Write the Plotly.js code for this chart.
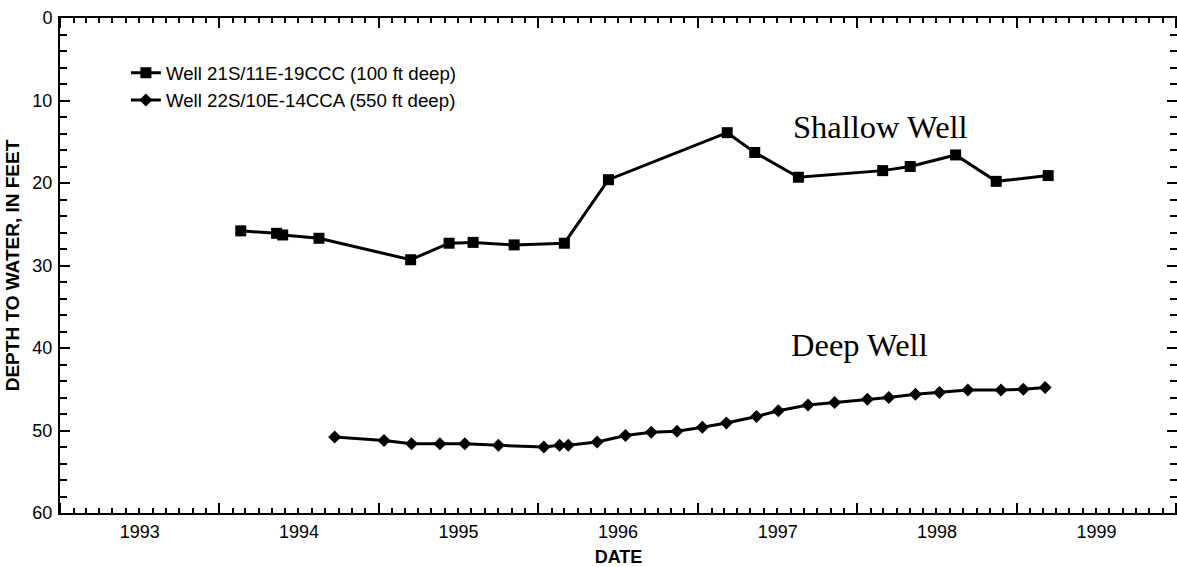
<!DOCTYPE html>
<html>
<head>
<meta charset="utf-8">
<script src="https://cdn.plot.ly/plotly-3.0.1.min.js"></script>
<style>
  html, body { margin: 0; padding: 0; background: #ffffff; }
  #chart { width: 1177px; height: 567px; }
</style>
</head>
<body>
<div id="chart"></div>
<script>
// Shallow well: Well 21S/11E-19CCC (100 ft deep)
const shallowDates = ['1994-02-19','1994-05-12','1994-05-26','1994-08-17','1995-03-15','1995-06-11',
  '1995-08-05','1995-11-07','1996-03-01','1996-06-10','1997-03-09','1997-05-11','1997-08-19',
  '1998-02-28','1998-05-02','1998-08-14','1998-11-15','1999-03-14'];
const shallowDepth = [25.8, 26.1, 26.3, 26.7, 29.3, 27.3, 27.2, 27.5, 27.3, 19.6, 13.9, 16.3, 19.3,
  18.5, 18.0, 16.6, 19.8, 19.1];

// Deep well: Well 22S/10E-14CCA (550 ft deep)
const deepDates = ['1994-09-22','1995-01-13','1995-03-17','1995-05-21','1995-07-17','1995-10-02',
  '1996-01-14','1996-02-19','1996-03-10','1996-05-15','1996-07-19','1996-09-16','1996-11-14',
  '1997-01-11','1997-03-07','1997-05-15','1997-07-04','1997-09-10','1997-11-10','1998-01-24',
  '1998-03-14','1998-05-14','1998-07-08','1998-09-11','1998-11-26','1999-01-16','1999-03-07'];
const deepDepth = [50.8, 51.2, 51.6, 51.6, 51.6, 51.8, 52.0, 51.8, 51.8, 51.4, 50.6, 50.2, 50.1,
  49.6, 49.1, 48.3, 47.6, 46.9, 46.6, 46.2, 46.0, 45.6, 45.4, 45.1, 45.1, 45.0, 44.8];

const seriesNames = ['Well 21S/11E-19CCC (100 ft deep)', 'Well 22S/10E-14CCA (550 ft deep)'];
const yTickVals = [0, 10, 20, 30, 40, 50, 60];
const labelTexts = ['Shallow Well', 'Deep Well'];

const SANS = 'Liberation Sans, Arial, Helvetica, sans-serif';
const SERIF = 'Liberation Serif, Times New Roman, serif';

const traces = [
  {
    x: shallowDates, y: shallowDepth, name: seriesNames[0], type: 'scatter', mode: 'lines+markers',
    line: {color: '#000000', width: 3},
    marker: {symbol: 'square', size: 11, color: '#000000'}
  },
  {
    x: deepDates, y: deepDepth, name: seriesNames[1], type: 'scatter', mode: 'lines+markers',
    line: {color: '#000000', width: 3},
    marker: {symbol: 'diamond', size: 10, color: '#000000'}
  }
];

const layout = {
  width: 1177, height: 567,
  margin: {l: 60, r: 0, t: 18, b: 54, pad: 0},
  paper_bgcolor: '#ffffff', plot_bgcolor: '#ffffff',
  font: {family: SANS, color: '#000000', size: 18},
  showlegend: true,
  legend: {
    x: 0.059, y: 0.927, xanchor: 'left', yanchor: 'top',
    bgcolor: 'rgba(0,0,0,0)', borderwidth: 0,
    font: {family: SANS, size: 18.7, color: '#000000'}
  },
  xaxis: {
    type: 'date',
    range: ['1993-01-01', '2000-01-03'],
    tick0: '1993-01-01', dtick: 'M12',
    ticklabelmode: 'period', tickformat: '%Y',
    ticks: 'inside', ticklen: 10, tickwidth: 2, tickcolor: '#000000',
    minor: {dtick: 'M1', ticks: 'inside', ticklen: 5, tickwidth: 2, tickcolor: '#000000', showgrid: false},
    showline: true, linewidth: 2, linecolor: '#000000', mirror: 'allticks',
    showgrid: false, zeroline: false,
    ticklabelstandoff: 1,
    tickfont: {family: SANS, size: 18, color: '#000000'},
    title: {text: 'DATE', standoff: 17, font: {family: SANS, size: 18, weight: 'bold', color: '#000000'}},
    automargin: false
  },
  yaxis: {
    range: [60, 0],
    tickvals: yTickVals,
    ticks: 'inside', ticklen: 10, tickwidth: 2, tickcolor: '#000000',
    minor: {dtick: 2, ticks: 'inside', ticklen: 7, tickwidth: 2, tickcolor: '#000000', showgrid: false},
    showline: true, linewidth: 2, linecolor: '#000000', mirror: 'allticks',
    showgrid: false, zeroline: false,
    ticklabelstandoff: 2,
    tickfont: {family: SANS, size: 18, color: '#000000'},
    title: {text: 'DEPTH TO WATER, IN FEET', standoff: 8, font: {family: SANS, size: 19, weight: 'bold', color: '#000000'}},
    automargin: false
  },
  annotations: [
    {text: labelTexts[0], xref: 'paper', yref: 'paper', x: 0.654, y: 0.78, xanchor: 'left', yanchor: 'middle',
     showarrow: false, font: {family: SERIF, size: 32.5, color: '#000000'}},
    {text: labelTexts[1], xref: 'paper', yref: 'paper', x: 0.653, y: 0.339, xanchor: 'left', yanchor: 'middle',
     showarrow: false, font: {family: SERIF, size: 32.5, color: '#000000'}}
  ]
};

Plotly.newPlot('chart', traces, layout, {displayModeBar: false, staticPlot: true});
</script>
</body>
</html>
